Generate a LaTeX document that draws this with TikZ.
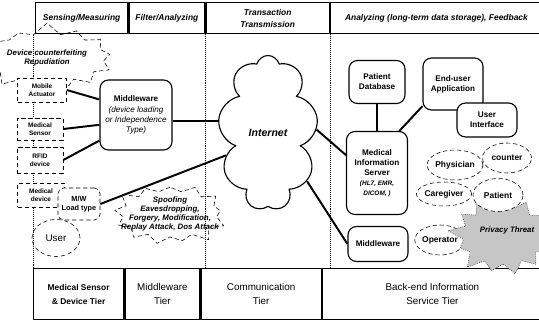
\documentclass[tikz,border=0pt]{standalone}
\usepackage{fontspec}
\setmainfont{Liberation Sans}
\usetikzlibrary{positioning,shapes.symbols,shapes.geometric}
\newlength{\unitpx}
\setlength{\unitpx}{0.025cm}
\newcommand{\fsz}[2]{\fontsize{#1}{#2}\selectfont}
\newcommand{\smit}[1]{{\fsz{4.6}{5.4}\itshape #1}}

\begin{document}
\begin{tikzpicture}[x=0.025cm,y=-0.025cm,line join=round,
                    link/.style={line width=1.4pt},
                    sep/.style={densely dotted,thin}]
  \tikzstyle{hdr}=[draw,line width=0.9pt,anchor=north west,inner sep=1pt,align=center,
                   minimum height=31\unitpx,font=\fsz{6}{8.5}\bfseries\itshape]
  \tikzstyle{tier}=[draw,line width=0.9pt,anchor=north west,inner sep=1pt,align=center,
                    minimum height=51\unitpx,font=\fsz{7}{10}]
  \tikzstyle{dev}=[draw,densely dashed,fill=white,align=center,inner sep=0pt,
                   font=\fsz{4.6}{5.8}\bfseries]
  \tikzstyle{rbox}=[draw,thick,rounded corners=6pt,fill=white,align=center,inner sep=1pt,
                    font=\fsz{5.8}{7.2}\bfseries]
  \tikzstyle{actor}=[ellipse,draw,densely dashed,inner sep=0pt,font=\fsz{6}{7}\bfseries]
  \tikzstyle{threat}=[starburst,draw,densely dashed,inner sep=0pt,starburst points=13,
                      random starburst=7]
  \tikzstyle{threattext}=[align=center,inner sep=0pt,font=\fsz{5.6}{6.6}\bfseries\itshape]

  \useasboundingbox (0,0) rectangle (539,321);

  % header row
  \node[hdr,minimum width=92\unitpx]  (h1) at (35,2)            {Sensing/Measuring};
  \node[hdr,minimum width=76\unitpx]  (h2) at (h1.north east)   {Filter/Analyzing};
  \node[hdr,minimum width=123\unitpx] (h3) at (h2.north east)   {Transaction\\Transmission};
  \node[hdr,minimum width=212\unitpx] (h4) at (h3.north east)   {Analyzing (long-term data storage), Feedback};

  % tier row
  \node[tier,minimum width=90\unitpx,font=\fsz{6}{10}\bfseries] (t1) at (33,268) {Medical Sensor\\\& Device Tier};
  \node[tier,minimum width=75\unitpx]  (t2) at (t1.north east) {Middleware\\Tier};
  \node[tier,minimum width=120\unitpx] (t3) at (t2.north east) {Communication\\Tier};
  \node[tier,minimum width=220\unitpx] (t4) at (t3.north east) {Back-end Information\\Service Tier};

  \draw[sep] (t1.north west) -- (t1.north west |- h1.south);
  \draw[sep] (h3.south west) -- (h3.south west |- t1.north);
  \draw[sep] (h4.south west) -- (h4.south west |- t1.north);

  % threats
  \node[threat,minimum width=138\unitpx,minimum height=72\unitpx,starburst point height=12\unitpx] (cntf) at (47,58) {};
  \node[threattext] (cntft) at (cntf) {Device counterfeiting\\Repudiation};
  \node[threat,minimum width=118\unitpx,minimum height=70\unitpx,starburst point height=12\unitpx,random starburst=3] (spf) at (170,214) {};
  \node[threattext] (spft) at (spf) {Spoofing\\Eavesdropping,\\Forgery, Modification,\\Replay Attack, Dos Attack};

  % sensors and devices
  \node[dev,minimum width=49\unitpx,minimum height=24\unitpx] (mact) at (42,90)  {Mobile\\Actuator};
  \node[dev,minimum width=46\unitpx,minimum height=22\unitpx] (msen) at (40,129) {Medical\\Sensor};
  \node[dev,minimum width=46\unitpx,minimum height=26\unitpx] (rfid) at (40,160) {RFID\\device};
  \node[dev,minimum width=47\unitpx,minimum height=24\unitpx] (mdev) at (41,195) {Medical\\device};
  \node[dev,rounded corners=4pt,minimum width=42\unitpx,minimum height=32\unitpx,
        font=\fsz{5.2}{6.4}\bfseries] (mwl) at (79,204) {M/W\\Load type};
  \node[actor,minimum width=48\unitpx,minimum height=37\unitpx,font=\fsz{7}{8}] (user) at (56,238) {User};

  \node[rbox,minimum width=72\unitpx,minimum height=70\unitpx] (mw) at (136,115)
       {Middleware\\{\mdseries\itshape (device loading}\\{\mdseries\itshape or Independence}\\{\mdseries\itshape Type)}};

  % network
  \node[cloud,draw,thick,cloud puffs=9,aspect=0.65,inner sep=0pt,minimum width=100\unitpx,
        minimum height=155\unitpx,font=\fsz{7.5}{8.5}\bfseries\itshape] (net) at (268,133) {Internet};

  % back-end
  \node[rbox,minimum width=56\unitpx,minimum height=43\unitpx] (pdb) at (377,82)  {Patient\\Database};
  \node[rbox,minimum width=60\unitpx,minimum height=52\unitpx] (eua) at (453,84)  {End-user\\Application};
  \node[rbox,minimum width=60\unitpx,minimum height=34\unitpx] (ui)  at (487,120) {User\\Interface};
  \node[rbox,minimum width=61\unitpx,minimum height=83\unitpx] (mis) at (377,173)
       {Medical\\Information\\Server\\\smit{(HL7, EMR,}\\\smit{DICOM, )}};
  \node[rbox,minimum width=60\unitpx,minimum height=35\unitpx] (mwr) at (378,244) {Middleware};

  \node[actor,minimum width=46\unitpx,minimum height=30\unitpx] (phys) at (455,165) {Physician};
  \node[actor,minimum width=49\unitpx,minimum height=30\unitpx] (cntr) at (507,158) {counter};
  \node[actor,minimum width=48\unitpx,minimum height=24\unitpx] (care) at (444,194) {Caregiver};
  \node[actor,minimum width=48\unitpx,minimum height=30\unitpx] (oper) at (440,240) {Operator};

  \node[threat,densely dotted,fill=gray!45,minimum width=120\unitpx,minimum height=96\unitpx,
        starburst point height=20\unitpx,random starburst=11] (prv) at (503,236) {};
  \node[threattext] (prvt) at (507,230) {Privacy Threat};

  \node[actor,fill=white,minimum width=50\unitpx,minimum height=33\unitpx] (pat) at (498,195) {Patient};

  % connections
  \draw[link] (mact.east) -- (mw.157);
  \draw[link] (msen.east) -- (mw.195);
  \draw[link] (rfid.east) -- (mw.215);
  \draw[link] (net.167) -- (net.167 -| mw.east);
  \draw[link] (mwl.east) -- (net.208);
  \draw[link] (net.4) -- (mis.150);
  \draw[link] (net.-51) -- (mwr.west);
  \draw[link] (pdb.south) -- (mis.north);
  \draw[link] (mis.62) -- (eua.216);
\end{tikzpicture}
\end{document}
